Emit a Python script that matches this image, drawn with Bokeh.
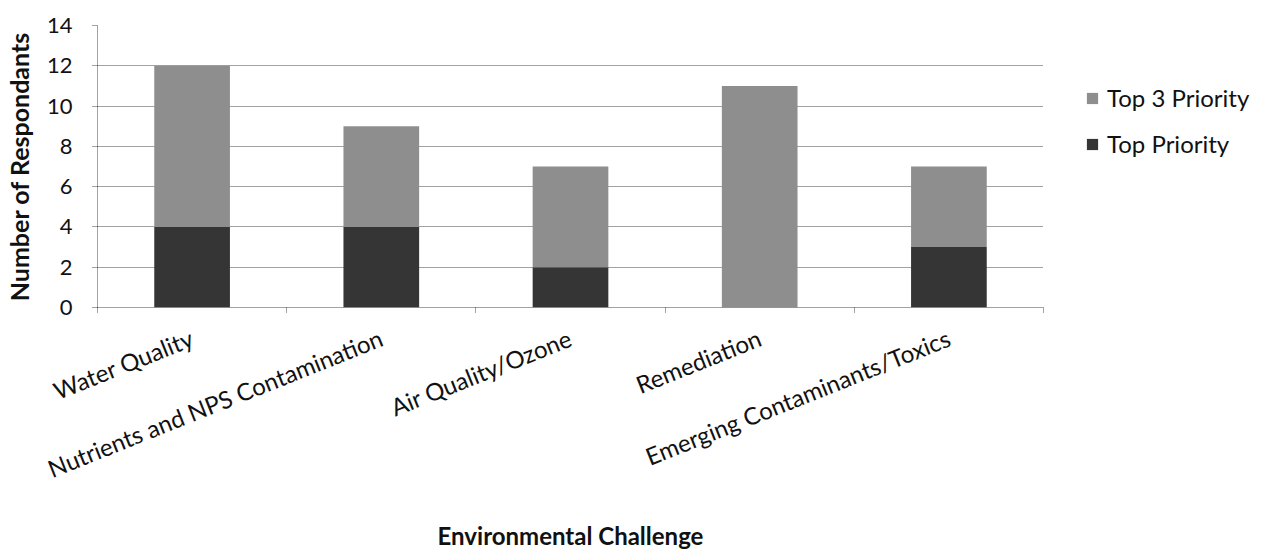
import numpy as np
from bokeh.plotting import figure
from bokeh.models import ColumnDataSource, FixedTicker, Legend, LegendItem, Range1d
from bokeh.embed import file_html
from bokeh.resources import INLINE

categories = ["Water Quality", "Nutrients and NPS Contamination", "Air Quality/Ozone",
              "Remediation", "Emerging Contaminants/Toxics"]
top_priority = [4, 4, 2, 0, 3]
top3_priority = [8, 5, 5, 11, 4]
y_ticks = [0, 2, 4, 6, 8, 10, 12, 14]

xpos = [i + 0.5 for i in range(len(categories))]
src = ColumnDataSource(dict(x=xpos, top=top_priority, top3=top3_priority))

FONT = "Lato"
p = figure(frame_width=946, frame_height=282, x_range=Range1d(0, 5), y_range=Range1d(0, 14),
           output_backend="svg", toolbar_location=None,
           min_border_left=97, min_border_top=25, min_border_right=10, min_border_bottom=2)
p.outline_line_color = None

r = p.vbar_stack(["top", "top3"], x="x", width=0.4, source=src,
                 fill_color=["#353535", "#8e8e8e"], line_color=None)

# axes
p.xaxis.ticker = FixedTicker(ticks=xpos, minor_ticks=list(range(len(categories) + 1)))
p.xaxis.major_label_overrides = {x: c for x, c in zip(xpos, categories)}
p.xaxis.major_tick_out = 0
p.xaxis.major_tick_in = 0
p.xaxis.minor_tick_out = 5
p.xaxis.minor_tick_in = 0
p.xaxis.minor_tick_line_color = "#444"
p.xaxis.minor_tick_line_dash = "1 1"
p.xaxis.major_label_orientation = 0.38
p.xaxis.major_label_standoff = 24
p.xaxis.major_label_text_font = FONT
p.xaxis.major_label_text_font_size = "24px"
p.xaxis.major_label_text_color = "#111"
p.xaxis.axis_line_color = "#444"
p.xaxis.axis_line_dash = "1 1"
p.xaxis.axis_label = "Environmental Challenge"
p.xaxis.axis_label_text_font = FONT
p.xaxis.axis_label_text_font_style = "bold"
p.xaxis.axis_label_text_font_size = "24px"
p.xaxis.axis_label_standoff = 22
p.xaxis.axis_label_text_color = "#111"

p.yaxis.ticker = FixedTicker(ticks=y_ticks)
p.yaxis.minor_tick_line_color = None
p.yaxis.major_tick_out = 5
p.yaxis.major_tick_in = 0
p.yaxis.major_tick_line_color = "#444"
p.yaxis.major_tick_line_dash = "1 1"
p.yaxis.axis_line_color = "#444"
p.yaxis.axis_line_dash = "1 1"
p.yaxis.major_label_text_font = FONT
p.yaxis.major_label_text_font_size = "22px"
p.yaxis.major_label_text_color = "#111"
p.yaxis.major_label_standoff = 20
p.yaxis.axis_label = "Number of Respondants"
p.yaxis.axis_label_text_font = FONT
p.yaxis.axis_label_text_font_style = "bold"
p.yaxis.axis_label_text_font_size = "25px"
p.yaxis.axis_label_standoff = 10
p.yaxis.axis_label_text_color = "#111"

p.xgrid.grid_line_color = None
p.ygrid.grid_line_color = "#444"
p.ygrid.grid_line_dash = "1 1"

legend = Legend(items=[LegendItem(label="Top 3 Priority", renderers=[r[1]]),
                       LegendItem(label="Top Priority", renderers=[r[0]])],
                location=(42, 149), padding=0, margin=0, spacing=17,
                glyph_width=14, glyph_height=14, label_standoff=8,
                label_text_font=FONT, label_text_font_size="24px",
                label_text_color="#111", border_line_color=None,
                background_fill_alpha=0)
p.add_layout(legend, "right")
p.min_border_right = 180

open("out.html", "w").write(file_html(p, INLINE))
